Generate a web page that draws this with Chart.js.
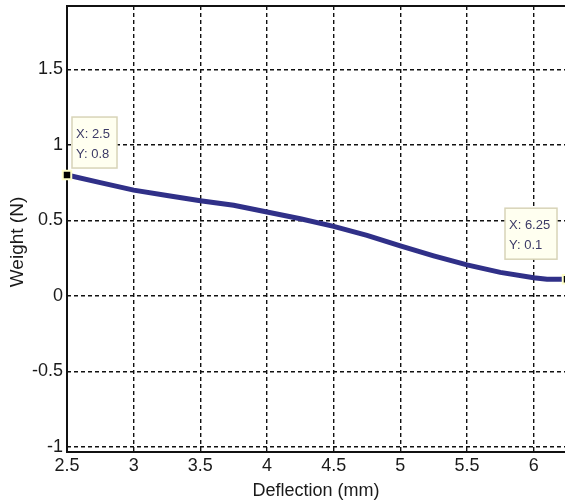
<!DOCTYPE html>
<html>
<head>
<meta charset="utf-8">
<script src="https://cdn.jsdelivr.net/npm/chart.js@4/dist/chart.umd.min.js"></script>
<style>
  html, body { margin: 0; padding: 0; background: #fff; }
  #wrap { width: 565px; height: 504px; position: relative; }
</style>
</head>
<body>
<div id="wrap"><canvas id="weightChart"></canvas></div>
<script>
// deflection (mm) vs weight (N)
const deflection = [2.5, 2.75, 3, 3.25, 3.5, 3.75, 4, 4.25, 4.5, 4.75, 5, 5.25, 5.5, 5.75, 6, 6.1, 6.25];
const weight = [0.8, 0.75, 0.7, 0.665, 0.63, 0.6, 0.555, 0.51, 0.46, 0.4, 0.33, 0.265, 0.205, 0.155, 0.12, 0.11, 0.11];

// data tips
const tipX = [2.5, 6.25];
const tipY = [0.8, 0.11];
const tipText = [['X: 2.5', 'Y: 0.8'], ['X: 6.25', 'Y: 0.1']];

const xTicks = [2.5, 3, 3.5, 4, 4.5, 5, 5.5, 6];
const yTicks = [-1, -0.5, 0, 0.5, 1, 1.5];

const FONT = 'Liberation Sans, Arial, sans-serif';

// axes box: top, left and bottom lines
const boxLines = {
  id: 'boxLines',
  beforeDatasetsDraw(chart) {
    const { ctx, chartArea: a } = chart;
    ctx.save();
    ctx.strokeStyle = '#111';
    ctx.lineWidth = 2;
    ctx.beginPath();
    ctx.moveTo(a.right + 2, a.top);
    ctx.lineTo(a.left, a.top);
    ctx.lineTo(a.left, a.bottom);
    ctx.lineTo(a.right + 2, a.bottom);
    ctx.stroke();
    ctx.restore();
  }
};

// y axis title, placed a bit below the middle like the original
const yTitle = {
  id: 'yTitle',
  afterDraw(chart) {
    const { ctx } = chart;
    ctx.save();
    ctx.translate(18, 242);
    ctx.rotate(-Math.PI / 2);
    ctx.font = '19px ' + FONT;
    ctx.fillStyle = '#1a1a1a';
    ctx.textAlign = 'center';
    ctx.textBaseline = 'middle';
    ctx.fillText('Weight (N)', 0, 0);
    ctx.restore();
  }
};

// MATLAB style data tip boxes
const dataTips = {
  id: 'dataTips',
  afterDraw(chart) {
    const { ctx } = chart;
    const xs = chart.scales.x, ys = chart.scales.y;
    const offsets = [{ dx: 5, dy: -58 }, { dx: -62, dy: -71 }];
    ctx.save();
    ctx.font = '13px ' + FONT;
    tipX.forEach((xv, i) => {
      const px = xs.getPixelForValue(xv);
      const py = ys.getPixelForValue(tipY[i]);
      const w = i === 0 ? 45 : 52, h = 51;
      const bx = px + offsets[i].dx, by = py + offsets[i].dy;
      ctx.fillStyle = '#fffff0';
      ctx.fillRect(bx, by, w, h);
      ctx.strokeStyle = '#d8d4b8';
      ctx.lineWidth = 1.5;
      ctx.strokeRect(bx, by, w, h);
      ctx.fillStyle = '#3c3a66';
      ctx.textBaseline = 'middle';
      ctx.fillText(tipText[i][0], bx + 4, by + 17);
      ctx.fillText(tipText[i][1], bx + 4, by + 37);
    });
    ctx.restore();
  }
};

function noPad(s) {
  s.paddingTop = 0; s.paddingBottom = 0;
  s.paddingLeft = 0; s.paddingRight = 0;
}

const ctx = document.getElementById('weightChart').getContext('2d');
new Chart(ctx, {
  type: 'line',
  data: {
    datasets: [{
      data: deflection.map((x, i) => ({ x: x, y: weight[i] })),
      borderColor: '#303088',
      borderWidth: 5,
      pointRadius: 0,
      tension: 0,
      clip: false,
      order: 2
    }, {
      data: tipX.map((x, i) => ({ x: x, y: tipY[i] })),
      showLine: false,
      pointStyle: 'rect',
      pointRadius: 6,
      pointBackgroundColor: '#000',
      pointBorderColor: '#ffffc8',
      pointBorderWidth: 2,
      clip: false,
      order: 1
    }]
  },
  options: {
    responsive: true,
    maintainAspectRatio: false,
    animation: false,
    layout: { autoPadding: false, padding: { top: 6, right: 0, left: 0, bottom: 0 } },
    plugins: {
      legend: { display: false },
      tooltip: { enabled: false }
    },
    scales: {
      x: {
        type: 'linear',
        min: 2.5,
        max: 6.235,
        afterBuildTicks: s => { s.ticks = xTicks.map(v => ({ value: v })); },
        afterFit: s => { s.height = 52; noPad(s); },
        grid: {
          color: '#111',
          lineWidth: 1.4,
          drawTicks: false
        },
        border: { display: false, dash: [4, 3] },
        ticks: {
          color: '#1a1a1a',
          font: { family: FONT, size: 18 },
          padding: 3,
          maxRotation: 0,
          autoSkip: false,
          callback: v => String(v)
        },
        title: {
          display: true,
          text: 'Deflection (mm)',
          color: '#1a1a1a',
          font: { family: FONT, size: 18 },
          padding: { top: 0, bottom: 2 }
        }
      },
      y: {
        min: -1.035,
        max: 1.92,
        afterBuildTicks: s => { s.ticks = yTicks.map(v => ({ value: v })); },
        afterFit: s => { s.width = 67; noPad(s); },
        grid: {
          color: '#111',
          lineWidth: 1.4,
          drawTicks: false
        },
        border: { display: false, dash: [4, 3] },
        ticks: {
          color: '#1a1a1a',
          font: { family: FONT, size: 18 },
          padding: 4,
          callback: v => String(v)
        },
        title: { display: false }
      }
    }
  },
  plugins: [boxLines, yTitle, dataTips]
});
</script>
</body>
</html>
